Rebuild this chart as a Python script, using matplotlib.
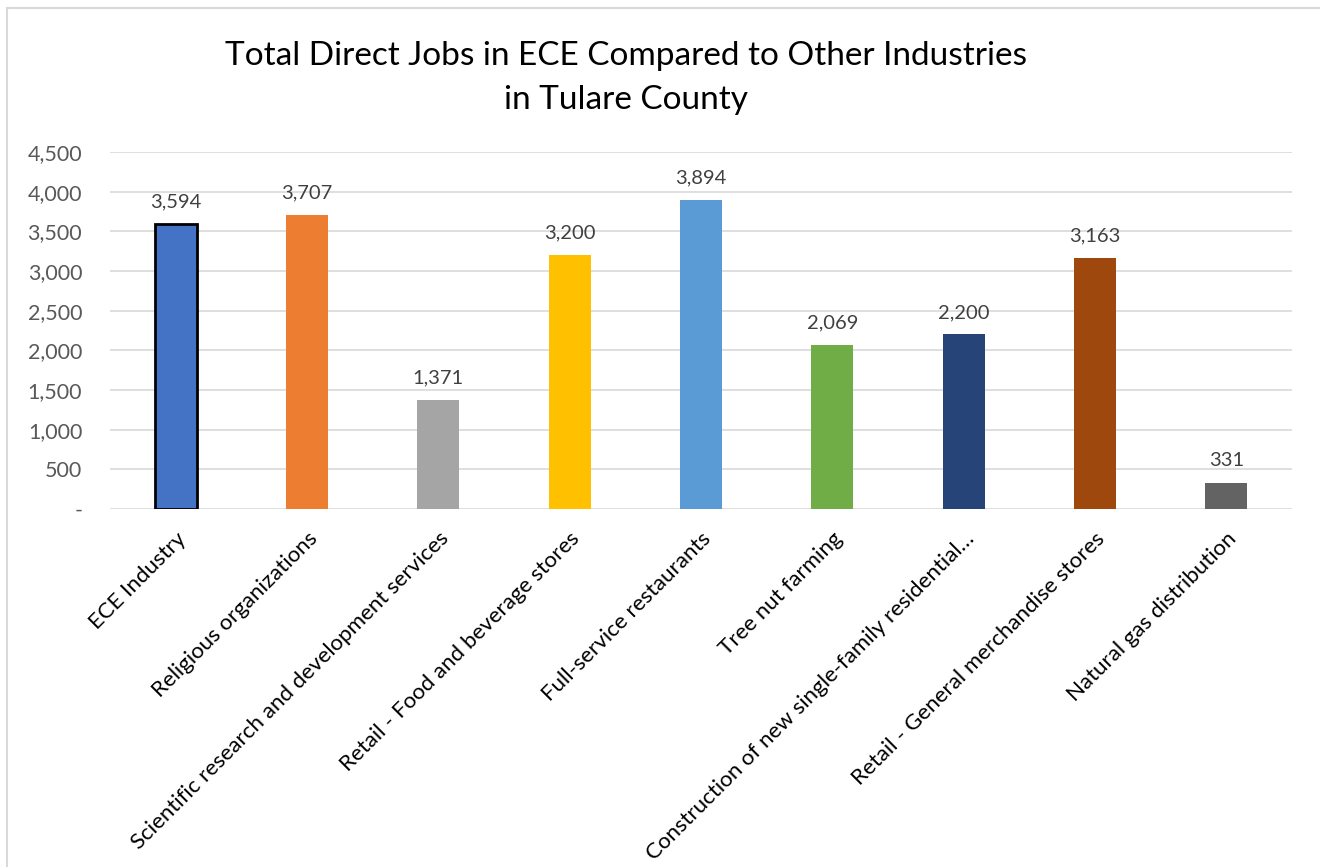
import matplotlib.pyplot as plt
from matplotlib.patches import Rectangle
from matplotlib.ticker import FuncFormatter

plt.rcParams['font.family'] = ['Lato', 'DejaVu Sans']

industries = [
    "ECE Industry",
    "Religious organizations",
    "Scientific research and development services",
    "Retail - Food and beverage stores",
    "Full-service restaurants",
    "Tree nut farming",
    "Construction of new single-family residential…",
    "Retail - General merchandise stores",
    "Natural gas distribution",
]
jobs = [3594, 3707, 1371, 3200, 3894, 2069, 2200, 3163, 331]
colors = ["#4472C4", "#ED7D31", "#A5A5A5", "#FFC000", "#5B9BD5",
          "#70AD47", "#264478", "#9E480E", "#636363"]

fig = plt.figure(figsize=(13.2, 8.67), dpi=100)
ax = fig.add_axes([110 / 1320, 1 - 509 / 867, 1182 / 1320, 357 / 867])

# chart border
fig.patches.append(Rectangle((7 / 1320, -0.1), 1.2, 1 - 8 / 867 + 0.1,
                             transform=fig.transFigure, fill=False,
                             edgecolor="#d9d9d9", linewidth=1.5))

x = range(len(industries))
bars = ax.bar(x, jobs, width=0.32, color=colors, zorder=3)
bars[0].set_edgecolor("black")
bars[0].set_linewidth(2)

for xi, v in zip(x, jobs):
    ax.text(xi, v + 170, f"{v:,}", ha="center", va="bottom",
            fontsize=14.5, color="#404040")

ax.set_ylim(0, 4500)
ax.set_xlim(-0.5, len(industries) - 0.5)
ax.set_yticks(range(0, 4501, 500))
ax.yaxis.set_major_formatter(FuncFormatter(lambda v, p: "-" if v == 0 else f"{int(v):,}"))
ax.grid(axis="y", color="#d9d9d9", linewidth=1.2, zorder=0)
for s in ax.spines.values():
    s.set_visible(False)
ax.tick_params(axis="both", length=0)
ax.tick_params(axis="y", labelsize=15.5, labelcolor="#595959", pad=20)
ax.set_xticks(list(x))
ax.set_xticklabels(industries, rotation=45, ha="right", rotation_mode="anchor",
                   fontsize=16, color="black")
ax.tick_params(axis="x", pad=14)

fig.text(626 / 1320, 1 - 78 / 867,
         "Total Direct Jobs in ECE Compared to Other Industries\nin Tulare County",
         ha="center", va="center", fontsize=24, linespacing=1.55, color="black")

fig.savefig("out.png", dpi=100)
